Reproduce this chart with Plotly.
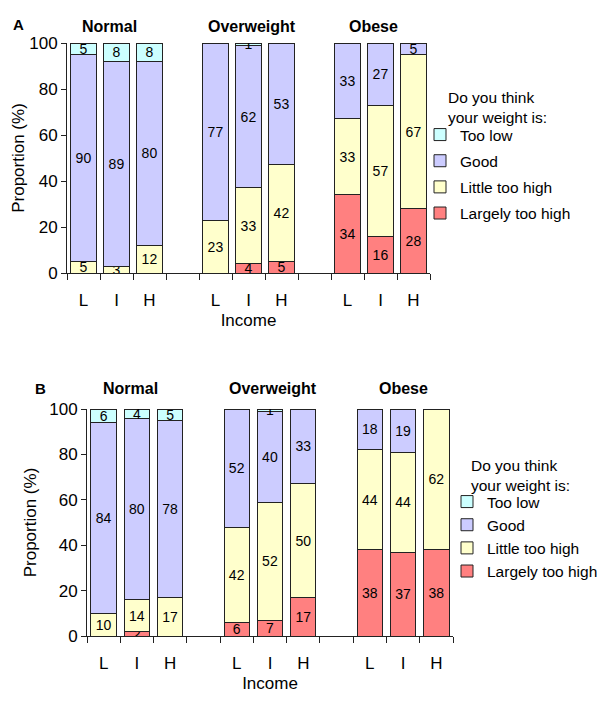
import plotly.graph_objects as go

# ---------------- data ----------------
categories = ["Too low", "Good", "Little too high", "Largely too high"]
groups = ["Normal", "Overweight", "Obese"]
income = ["L", "I", "H"]

# Panel A (values per bar: Normal L,I,H | Overweight L,I,H | Obese L,I,H)
A_too_low = [5, 8, 8, 0, 1, 0, 0, 0, 0]
A_good = [90, 89, 80, 77, 62, 53, 33, 27, 5]
A_little = [5, 3, 12, 23, 33, 42, 33, 57, 67]
A_largely = [0, 0, 0, 0, 4, 5, 34, 16, 28]

# Panel B
B_too_low = [6, 4, 5, 0, 1, 0, 0, 0, 0]
B_good = [84, 80, 78, 52, 40, 33, 18, 19, 0]
B_little = [10, 14, 17, 42, 52, 50, 44, 44, 62]
B_largely = [0, 2, 0, 6, 7, 17, 38, 37, 38]

yticks = [0, 20, 40, 60, 80, 100]
legend_title = "Do you think<br>your weight is:"

colors = {"Too low": "#CCFFFF", "Good": "#CCCCFF",
          "Little too high": "#FFFFCC", "Largely too high": "#FF8080"}

FONT = "Arial, Liberation Sans, sans-serif"
W, H = 600, 703

# slot positions: 3 bars per group, one empty slot between groups
xpos = []
for gi in range(len(groups)):
    for ii in range(len(income)):
        xpos.append(gi * 4 + ii)
xtext = income * len(groups)
nslots = len(groups) * 4 - 1
bounds = [i - 0.5 for i in range(nslots + 1)]

fig = go.Figure()

panels = [
    ({"Too low": A_too_low, "Good": A_good, "Little too high": A_little,
      "Largely too high": A_largely}, "x", "y", "legend"),
    ({"Too low": B_too_low, "Good": B_good, "Little too high": B_little,
      "Largely too high": B_largely}, "x2", "y2", "legend2"),
]

for data, xa, ya, lg in panels:
    for cat in ["Largely too high", "Little too high", "Good", "Too low"]:
        vals = data[cat]
        yv = [v if v > 0 else None for v in vals]
        fig.add_trace(go.Bar(
            x=xpos, y=yv, name=cat, xaxis=xa, yaxis=ya, legend=lg,
            legendgroup=lg + cat, legendrank=categories.index(cat) + 1,
            marker=dict(color=colors[cat], line=dict(color="#222222", width=1)),
            text=[str(v) if v > 0 else "" for v in vals],
            textposition="inside", insidetextanchor="middle", textangle=0,
            textfont=dict(family=FONT, size=14, color="black"),
            width=0.76, hoverinfo="skip",
        ))


def xaxis_cfg(domain, anchor, title_standoff):
    return dict(
        domain=domain, anchor=anchor,
        range=[-0.5, nslots - 0.5], tickvals=xpos, ticktext=xtext, ticks="",
        ticklabelstandoff=12,
        showline=True, linecolor="#222222", linewidth=1, showgrid=False,
        zeroline=False, tickfont=dict(family=FONT, size=17, color="black"),
        minor=dict(tickvals=bounds, ticks="outside", ticklen=6, tickcolor="#222222"),
        title=dict(text="Income", font=dict(family=FONT, size=17, color="black"),
                   standoff=title_standoff),
        fixedrange=True, automargin=False,
    )


def yaxis_cfg(domain, anchor, title_standoff):
    return dict(
        domain=domain, anchor=anchor,
        range=[0, 100], tickvals=yticks, ticks="outside", ticklen=5,
        tickcolor="#222222", showline=True, linecolor="#222222", linewidth=1,
        showgrid=False, zeroline=False,
        tickfont=dict(family=FONT, size=17, color="black"),
        title=dict(text="Proportion (%)", font=dict(family=FONT, size=17, color="black"),
                   standoff=title_standoff),
        fixedrange=True, automargin=False,
    )


fig.update_layout(
    width=W, height=H, margin=dict(l=0, r=0, t=0, b=0, autoexpand=False),
    paper_bgcolor="white", plot_bgcolor="white",
    barmode="stack", bargap=0,
    uniformtext=dict(minsize=14, mode="show"),
    font=dict(family=FONT, color="black"),
    hovermode=False,
    xaxis=xaxis_cfg([67 / W, 430 / W], "y", 4),
    yaxis=yaxis_cfg([1 - 273 / H, 1 - 43 / H], "x", 0),
    xaxis2=xaxis_cfg([87 / W, 453 / W], "y2", 4),
    yaxis2=yaxis_cfg([1 - 636 / H, 1 - 409 / H], "x2", 8),
)

legend_common = dict(
    traceorder="grouped", bgcolor="rgba(0,0,0,0)",
    font=dict(family=FONT, size=15.5, color="black"),
    xanchor="left", yanchor="top", itemclick=False, itemdoubleclick=False,
)
fig.update_layout(
    legend=dict(x=420 / W, y=1 - 118 / H, tracegroupgap=3, **legend_common),
    legend2=dict(x=447 / W, y=1 - 485 / H, tracegroupgap=0, **legend_common),
)

# legend titles
fig.add_annotation(x=446 / W, y=1 - 108 / H, xref="paper", yref="paper",
                   text=legend_title, showarrow=False, align="left",
                   xanchor="left", yanchor="middle",
                   font=dict(family=FONT, size=15.5, color="black"))
fig.add_annotation(x=469 / W, y=1 - 475 / H, xref="paper", yref="paper",
                   text=legend_title, showarrow=False, align="left",
                   xanchor="left", yanchor="middle",
                   font=dict(family=FONT, size=15.5, color="black"))

# group titles and panel letters
offsets_A = [-0.2, 0.1, -0.2]
offsets_B = [-0.2, 0.1, 0.0]
for gi, g in enumerate(groups):
    fig.add_annotation(x=gi * 4 + 1 + offsets_A[gi], y=1 - 26 / H, xref="x", yref="paper",
                       text="<b>%s</b>" % g, showarrow=False,
                       font=dict(family=FONT, size=16, color="black"),
                       yanchor="middle")
    fig.add_annotation(x=gi * 4 + 1 + offsets_B[gi], y=1 - 388 / H, xref="x2", yref="paper",
                       text="<b>%s</b>" % g, showarrow=False,
                       font=dict(family=FONT, size=16, color="black"),
                       yanchor="middle")

fig.add_annotation(x=11 / W, y=1 - 24 / H, xref="paper", yref="paper",
                   text="<b>A</b>", showarrow=False, xanchor="left", yanchor="middle",
                   font=dict(family=FONT, size=15, color="black"))
fig.add_annotation(x=33 / W, y=1 - 388 / H, xref="paper", yref="paper",
                   text="<b>B</b>", showarrow=False, xanchor="left", yanchor="middle",
                   font=dict(family=FONT, size=15, color="black"))

fig.write_html(
    "out.html",
    config={"displayModeBar": False, "staticPlot": True},
    post_script="document.body.style.margin='0';document.body.style.overflow='hidden';",
)
